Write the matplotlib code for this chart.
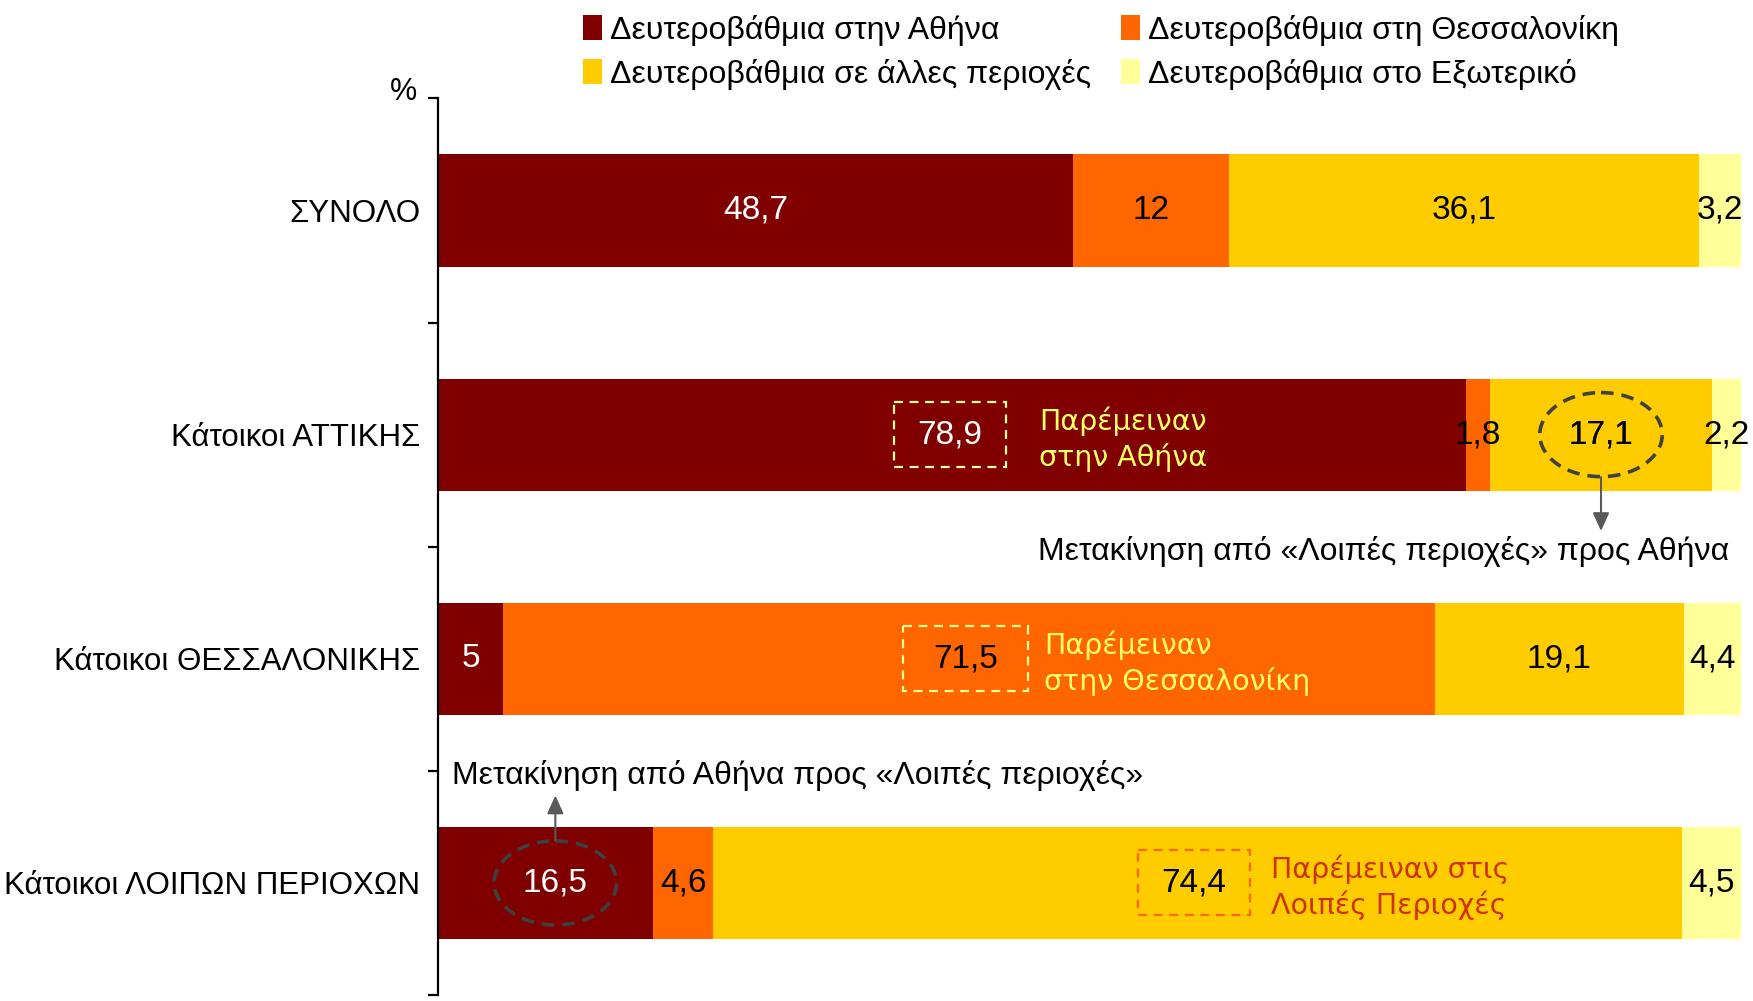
import matplotlib.pyplot as plt
from matplotlib.patches import Ellipse, Rectangle

categories = ['ΣΥΝΟΛΟ', 'Κάτοικοι ΑΤΤΙΚΗΣ', 'Κάτοικοι ΘΕΣΣΑΛΟΝΙΚΗΣ', 'Κάτοικοι ΛΟΙΠΩΝ ΠΕΡΙΟΧΩΝ']
series_names = ['Δευτεροβάθμια στην Αθήνα', 'Δευτεροβάθμια στη Θεσσαλονίκη',
                'Δευτεροβάθμια σε άλλες περιοχές', 'Δευτεροβάθμια στο Εξωτερικό']
athens = [48.7, 78.9, 5.0, 16.5]
thessaloniki = [12.0, 1.8, 71.5, 4.6]
other = [36.1, 17.1, 19.1, 74.4]
abroad = [3.2, 2.2, 4.4, 4.5]

colors = ['#800000', '#FF6600', '#FFCC00', '#FFFF99']
sans = ['Liberation Sans', 'DejaVu Sans']

fig = plt.figure(figsize=(17.53, 10.01), dpi=100)
ax = fig.add_axes([0.2499, 0.006, 0.7433, 0.8957])

series = [athens, thessaloniki, other, abroad]
ypos = list(range(len(categories)))
left = [0.0] * len(categories)
bars = []
for vals, col in zip(series, colors):
    b = ax.barh(ypos, vals, left=left, height=0.5, color=col, edgecolor='none')
    bars.append(b)
    left = [l + v for l, v in zip(left, vals)]

ax.set_xlim(0, 100)
ax.set_ylim(3.5, -0.5)


def fmt(v):
    return ('%g' % v).replace('.', ',')


# value labels at segment centres (some are placed inside the highlight boxes)
skip = {(1, 0), (2, 1), (3, 0), (3, 2)}
for si, vals in enumerate(series):
    start = [sum(s[i] for s in series[:si]) for i in range(len(categories))]
    for ci, v in enumerate(vals):
        if (ci, si) in skip:
            continue
        c = 'white' if si == 0 else 'black'
        ax.text(start[ci] + v / 2, ci, fmt(v), ha='center', va='center',
                fontsize=24, color=c, family=sans)

# highlighted boxes: (row, x0, x1, value, text colour, edge colour, caption, caption x, caption colour)
boxes = [
    (1, 35.0, 43.6, athens[1], 'white', '#FFFF99', 'Παρέμειναν\nστην Αθήνα', 46.1, '#FFFF66'),
    (2, 35.7, 45.3, thessaloniki[2], 'black', '#FFFF99', 'Παρέμειναν\nστην Θεσσαλονίκη', 46.5, '#FFFF66'),
    (3, 53.7, 62.3, other[3], 'black', '#FF6600', 'Παρέμειναν στις\nΛοιπές Περιοχές', 63.9, '#CC3300'),
]
for row, x0, x1, v, tc, ec, cap, cx, cc in boxes:
    ax.add_patch(Rectangle((x0, row - 0.145), x1 - x0, 0.29, fill=False,
                           edgecolor=ec, linestyle=(0, (4, 3)), linewidth=1.6))
    ax.text((x0 + x1) / 2, row, fmt(v), ha='center', va='center',
            fontsize=24, color=tc, family=sans)
    ax.text(cx, row + 0.02, cap, ha='left', va='center', fontsize=20.5,
            color=cc, family=['DejaVu Sans'], linespacing=1.3)

# dashed circles marking the movements
moves = [(1, 89.25, other[1], 'black'), (3, 9.0, athens[3], 'white')]
for row, xc, v, tc in moves:
    ax.add_patch(Ellipse((xc, row), 9.4, 0.375, fill=False, edgecolor='#404040',
                         linestyle=(0, (3.5, 2.2)), linewidth=2.6))
    ax.text(xc, row, fmt(v), ha='center', va='center', fontsize=24,
            color=tc, family=sans)

arrow = dict(arrowstyle='-|>,head_length=0.55,head_width=0.25', color='#595959',
             lw=1.5, mutation_scale=20, shrinkA=0, shrinkB=0)
ax.annotate('', xy=(89.25, 1.43), xytext=(89.25, 1.19), arrowprops=arrow)
ax.annotate('', xy=(9.0, 2.61), xytext=(9.0, 2.81), arrowprops=arrow)
ax.text(99.1, 1.52, 'Μετακίνηση από «Λοιπές περιοχές» προς Αθήνα', ha='right',
        va='center', fontsize=23, family=sans)
ax.text(1.1, 2.52, 'Μετακίνηση από Αθήνα προς «Λοιπές περιοχές»', ha='left',
        va='center', fontsize=23, family=sans)

# axes styling
for s in ['top', 'right', 'bottom']:
    ax.spines[s].set_visible(False)
ax.spines['left'].set_linewidth(1.6)
ax.set_xticks([])
ax.set_yticks(ypos)
ax.set_yticklabels(categories, fontsize=22.5, family=sans)
ax.tick_params(axis='y', which='major', length=0, pad=13)
ax.set_yticks([-0.5, 0.5, 1.5, 2.5, 3.5], minor=True)
ax.tick_params(axis='y', which='minor', length=7, width=1.6)
ax.text(-0.016, 1.007, '%', transform=ax.transAxes, ha='right', va='center',
        fontsize=22, family=sans)

handles = [bars[0], bars[2], bars[1], bars[3]]
labels = [series_names[0], series_names[2], series_names[1], series_names[3]]
fig.legend(handles, labels, loc='upper left', bbox_to_anchor=(0.316, 1.014), ncol=2,
           frameon=False, handlelength=0.6, handleheight=0.85, handletextpad=0.25,
           columnspacing=0.95, labelspacing=0.4, prop={'family': sans, 'size': 23})

fig.savefig('out.png', dpi=100)
